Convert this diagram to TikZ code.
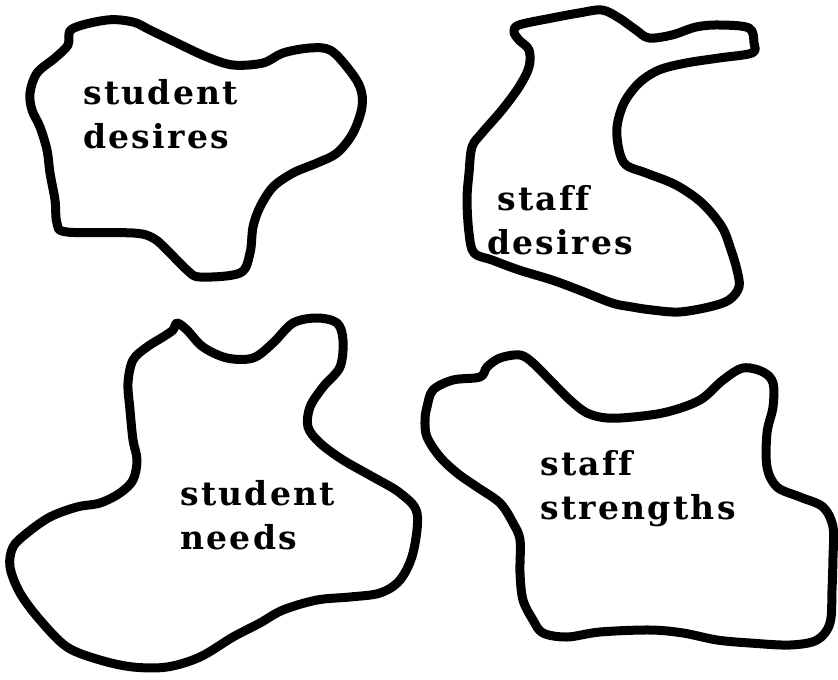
\documentclass[tikz,border=0pt]{standalone}
\usepackage{fontspec}
\newfontfamily\stencilfont[LetterSpace=7, Ligatures=NoCommon]{DejaVu Serif}

\begin{document}
\begin{tikzpicture}[
    x=1pt, y=-1pt,
    blob/.style={line width=9pt, line join=round, black},
    tag/.style={font=\stencilfont\bfseries\fontsize{33}{44}\selectfont, align=left,
                anchor=north west, inner sep=0pt},
]
\useasboundingbox (0,0) rectangle (838,680);

% Top left: student desires
\draw[blob] plot[smooth cycle, tension=0.55] coordinates {
  (72,29) (107,20) (133,22) (150,30) (177,43) (207,57) (233,65) (263,63)
  (283,53) (310,48) (330,50) (347,67) (360,87) (362,107) (353,133) (337,153)
  (317,163) (293,173) (273,187) (260,207) (253,227) (250,253) (240,273)
  (200,277) (187,270) (167,250) (153,238) (133,233) (67,232) (57,223)
  (55,200) (50,173) (47,150) (40,127) (32,110) (30,93) (37,73) (55,58) (68,45)};
\node[tag] (studdes) at (83,79) {student\\desires};

% Top right: staff desires
\draw[blob] plot[smooth cycle, tension=0.55] coordinates {
  (519,25) (552,18) (579,13) (602,10) (619,18) (636,30) (649,38) (672,35)
  (696,27) (719,25) (749,28) (754,43) (752,53) (719,58) (686,63) (659,70)
  (639,83) (624,103) (617,127) (619,150) (626,165) (646,173) (676,185)
  (702,203) (722,227) (731,250) (737,270) (739,287) (729,300) (709,307)
  (679,312) (652,310) (632,307) (612,303) (579,290) (552,280) (519,270)
  (492,260) (474,253) (469,233) (467,200) (469,173) (472,147) (482,133)
  (502,110) (519,87) (529,67) (529,50) (519,40) (514,32)};
\node[tag] (stafdes) at (487,185) {\hspace{10pt}staff\\desires};

% Bottom left: student needs
\draw[blob] plot[smooth cycle, tension=0.55] coordinates {
  (177,323) (187,330) (203,347) (227,358) (253,358) (273,343) (293,323)
  (317,318) (337,323) (343,340) (340,367) (323,387) (310,407) (308,427)
  (320,443) (343,460) (373,477) (400,493) (417,513) (413,553) (400,580)
  (380,593) (350,597) (317,600) (283,610) (260,623) (233,637) (200,657)
  (167,667) (133,667) (100,660) (67,647) (40,620) (20,593) (10,567)
  (13,547) (27,533) (50,517) (77,507) (100,503) (120,493) (133,480)
  (137,460) (133,440) (130,410) (128,383) (133,360) (147,347) (163,337)
  (173,330)};
\node[tag] (studneed) at (180,480) {student\\needs};

% Bottom right: staff strengths
\draw[blob] plot[smooth cycle, tension=0.55] coordinates {
  (427,407) (433,390) (453,380) (480,377) (487,367) (500,358) (520,355)
  (533,363) (550,380) (570,400) (587,413) (607,418) (633,417) (667,412)
  (700,400) (723,380) (743,368) (763,372) (773,383) (773,407) (767,433)
  (767,467) (777,487) (800,497) (823,507) (833,527) (833,557) (832,590)
  (830,623) (817,640) (790,645) (750,643) (717,640) (683,633) (650,630)
  (600,632) (567,637) (543,633) (533,620) (523,600) (520,573) (520,540)
  (513,523) (500,503) (477,487) (457,473) (440,457) (427,437) (425,420)};
\node[tag] (stafstr) at (540,450) {staff\\strengths};

\end{tikzpicture}
\end{document}
